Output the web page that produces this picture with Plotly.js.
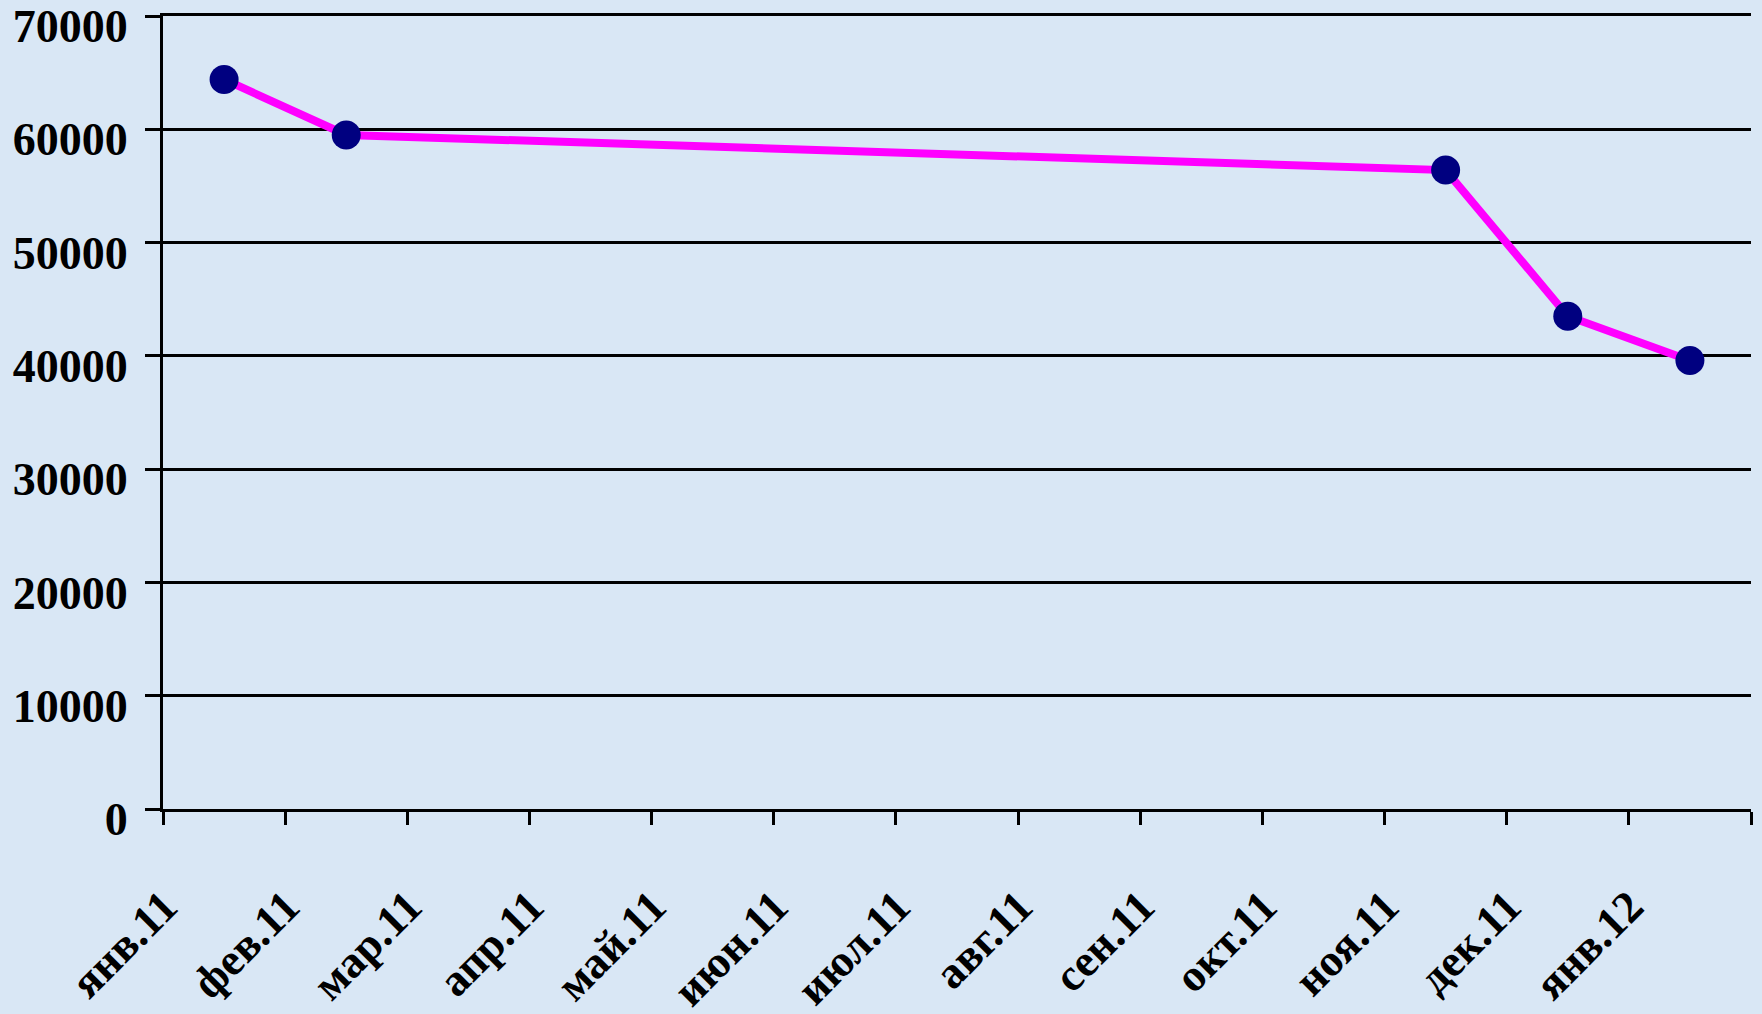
<!DOCTYPE html>
<html>
<head>
<meta charset="utf-8">
<script src="https://cdn.plot.ly/plotly-3.0.1.min.js"></script>
<style>
html,body{margin:0;padding:0;background:#d9e7f5;}
#chart{width:1762px;height:1014px;}
</style>
</head>
<body>
<div id="chart"></div>
<script>
const months = ["янв.11","фев.11","мар.11","апр.11","май.11","июн.11","июл.11","авг.11","сен.11","окт.11","ноя.11","дек.11","янв.12"];
const values = [64400, 59500, null, null, null, null, null, null, null, null, 56400, 43500, 39600];
const yTicks = [0, 10000, 20000, 30000, 40000, 50000, 60000, 70000];

const trace = {
  x: months,
  y: values,
  type: "scatter",
  mode: "lines+markers",
  connectgaps: true,
  line: {color: "#ff00ff", width: 8},
  marker: {color: "#000080", size: 29, line: {width: 0}},
  hoverinfo: "skip"
};

const fam = "Liberation Serif, Times New Roman, serif";

const layout = {
  width: 1762,
  height: 1014,
  paper_bgcolor: "#d9e7f5",
  plot_bgcolor: "#d9e7f5",
  margin: {l: 163, r: 11, t: 16, b: 205},
  showlegend: false,
  xaxis: {
    type: "category",
    range: [-0.5, 12.5],
    tickson: "boundaries",
    ticks: "outside",
    ticklen: 13,
    tickwidth: 3,
    tickcolor: "#000",
    showline: true,
    mirror: true,
    linecolor: "#000",
    linewidth: 3,
    showgrid: false,
    zeroline: false,
    tickangle: -45,
    ticklabelshift: -60,
    ticklabelstandoff: 50,
    ticklabeloverflow: "allow",
    tickfont: {family: fam, color: "#000", size: 45, weight: "bold"}
  },
  yaxis: {
    range: [0, 70000],
    tickvals: yTicks,
    ticktext: yTicks.map(String),
    ticks: "outside",
    ticklen: 15,
    tickwidth: 3,
    tickcolor: "#000",
    showline: true,
    linecolor: "#000",
    linewidth: 3,
    showgrid: true,
    gridcolor: "#000",
    gridwidth: 3,
    zeroline: false,
    ticklabelstandoff: 8,
    ticklabelshift: 10,
    ticklabeloverflow: "allow",
    tickfont: {family: fam, color: "#000", size: 46, weight: "bold"}
  }
};

Plotly.newPlot("chart", [trace], layout, {displayModeBar: false, staticPlot: true});
</script>
</body>
</html>
